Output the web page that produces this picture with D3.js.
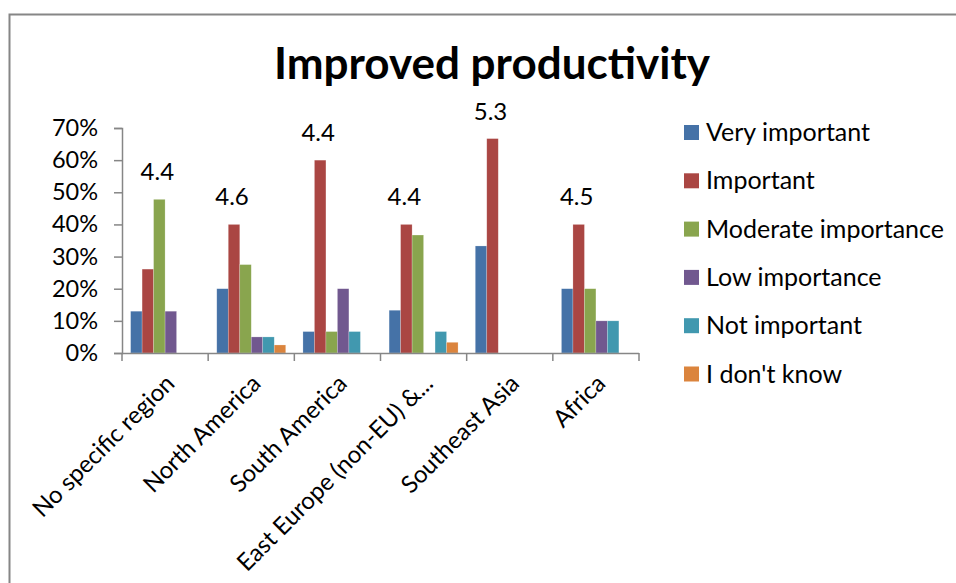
<!DOCTYPE html>
<html><head><meta charset="utf-8">
<script src="https://cdn.jsdelivr.net/npm/d3@7"></script>
<style>
body{margin:0;background:#fff;}
svg{display:block;}
text{font-family:Lato,"Open Sans",sans-serif;fill:#000;}
</style></head>
<body>
<svg id="chart" width="956" height="583"></svg>
<script>
const categories = ["No specific region","North America","South America","East Europe (non-EU) &...","Southeast Asia","Africa"];
const seriesNames = ["Very important","Important","Moderate importance","Low importance","Not important","I don't know"];
const colors = ["#4572A7","#AA4643","#89A54E","#71588F","#4198AF","#DB843D"];
const veryImportant = [0.130, 0.200, 0.0667, 0.133, 0.333, 0.200];
const important     = [0.261, 0.400, 0.600, 0.400, 0.667, 0.400];
const moderate      = [0.478, 0.275, 0.0667, 0.367, 0, 0.200];
const lowImportance = [0.130, 0.050, 0.200, 0, 0, 0.100];
const notImportant  = [0, 0.050, 0.0667, 0.0667, 0, 0.100];
const dontKnow      = [0, 0.025, 0, 0.0333, 0, 0];
const avgScores = ["4.4","4.6","4.4","4.4","5.3","4.5"];
const yTicks = [0,0.1,0.2,0.3,0.4,0.5,0.6,0.7];
const title = "Improved productivity";

const seriesValues = [veryImportant, important, moderate, lowImportance, notImportant, dontKnow];
const svg = d3.select("#chart");

// chart border
svg.append("rect").attr("x",9.5).attr("y",14.5).attr("width",980).attr("height",620)
  .attr("fill","none").attr("stroke","#868686").attr("stroke-width",2);

const x0 = d3.scaleBand().domain(categories).range([122,639]).paddingInner(0).paddingOuter(0);
const x1 = d3.scaleBand().domain(seriesNames).range([0,x0.bandwidth()]).paddingInner(0).paddingOuter(0.75);
const y = d3.scaleLinear().domain([0,0.7]).range([353,128]);

// title
svg.append("text").attr("x",492).attr("y",79).attr("text-anchor","middle")
  .style("font-weight","bold").style("font-size","44px").text(title);

// bars
categories.forEach((c,ci)=>{
  const g = svg.append("g").attr("transform",`translate(${x0(c)},0)`);
  g.selectAll("rect").data(seriesNames.map((s,si)=>({s,si,v:seriesValues[si][ci]})).filter(d=>d.v>0))
    .join("rect")
    .attr("x",d=>x1(d.s)).attr("width",x1.bandwidth())
    .attr("y",d=>y(d.v)).attr("height",d=>y(0)-y(d.v))
    .attr("fill",d=>colors[d.si])
    .attr("stroke","rgba(255,255,255,0.35)").attr("stroke-width",0.6);
  // average label above tallest bar
  let maxI=0; seriesValues.forEach((arr,si)=>{ if(arr[ci]>seriesValues[maxI][ci]) maxI=si; });
  g.append("text").attr("x",x1(seriesNames[maxI])+x1.bandwidth()/2 - 2)
    .attr("y",y(seriesValues[maxI][ci]) - 19)
    .attr("text-anchor","middle").style("font-size","24px").text(avgScores[ci]);
});

// y axis
const yAxis = d3.axisLeft(y).tickValues(yTicks).tickFormat(d3.format(".0%")).tickSize(8).tickPadding(16);
const ya = svg.append("g").attr("transform","translate(122,0)").call(yAxis);
ya.select(".domain").attr("stroke","#868686").attr("stroke-width",1.5).attr("d","M-8,128.5H0.5V353.5H-8");
ya.selectAll(".tick line").attr("stroke","#868686").attr("stroke-width",1.5);
ya.selectAll(".tick text").style("font-size","23.5px").style("font-family","Lato").attr("fill","#000");

// x axis
const xa = svg.append("g").attr("transform","translate(0,353)");
xa.append("line").attr("x1",122).attr("x2",639).attr("y1",0.5).attr("y2",0.5).attr("stroke","#868686").attr("stroke-width",1.5);
const bounds = categories.map(c=>x0(c)).concat([x0(categories[categories.length-1])+x0.bandwidth()]);
xa.selectAll("line.tk").data(bounds).join("line").attr("class","tk")
  .attr("x1",d=>d).attr("x2",d=>d).attr("y1",0).attr("y2",8).attr("stroke","#868686").attr("stroke-width",1.5);
xa.selectAll("text.lbl").data(categories).join("text").attr("class","lbl")
  .attr("transform",d=>`translate(${x0(d)+x0.bandwidth()/2+11},${32}) rotate(-45)`)
  .attr("text-anchor","end").style("font-size","24px").text(d=>d);

// legend
const lg = svg.append("g");
seriesNames.forEach((s,i)=>{
  const cy = 132.5 + i*48.3;
  lg.append("rect").attr("x",684).attr("y",cy-7.5).attr("width",15).attr("height",15).attr("fill",colors[i]);
  lg.append("text").attr("x",706).attr("y",cy+8.5).style("font-size","25px").text(s);
});
</script>
</body></html>
